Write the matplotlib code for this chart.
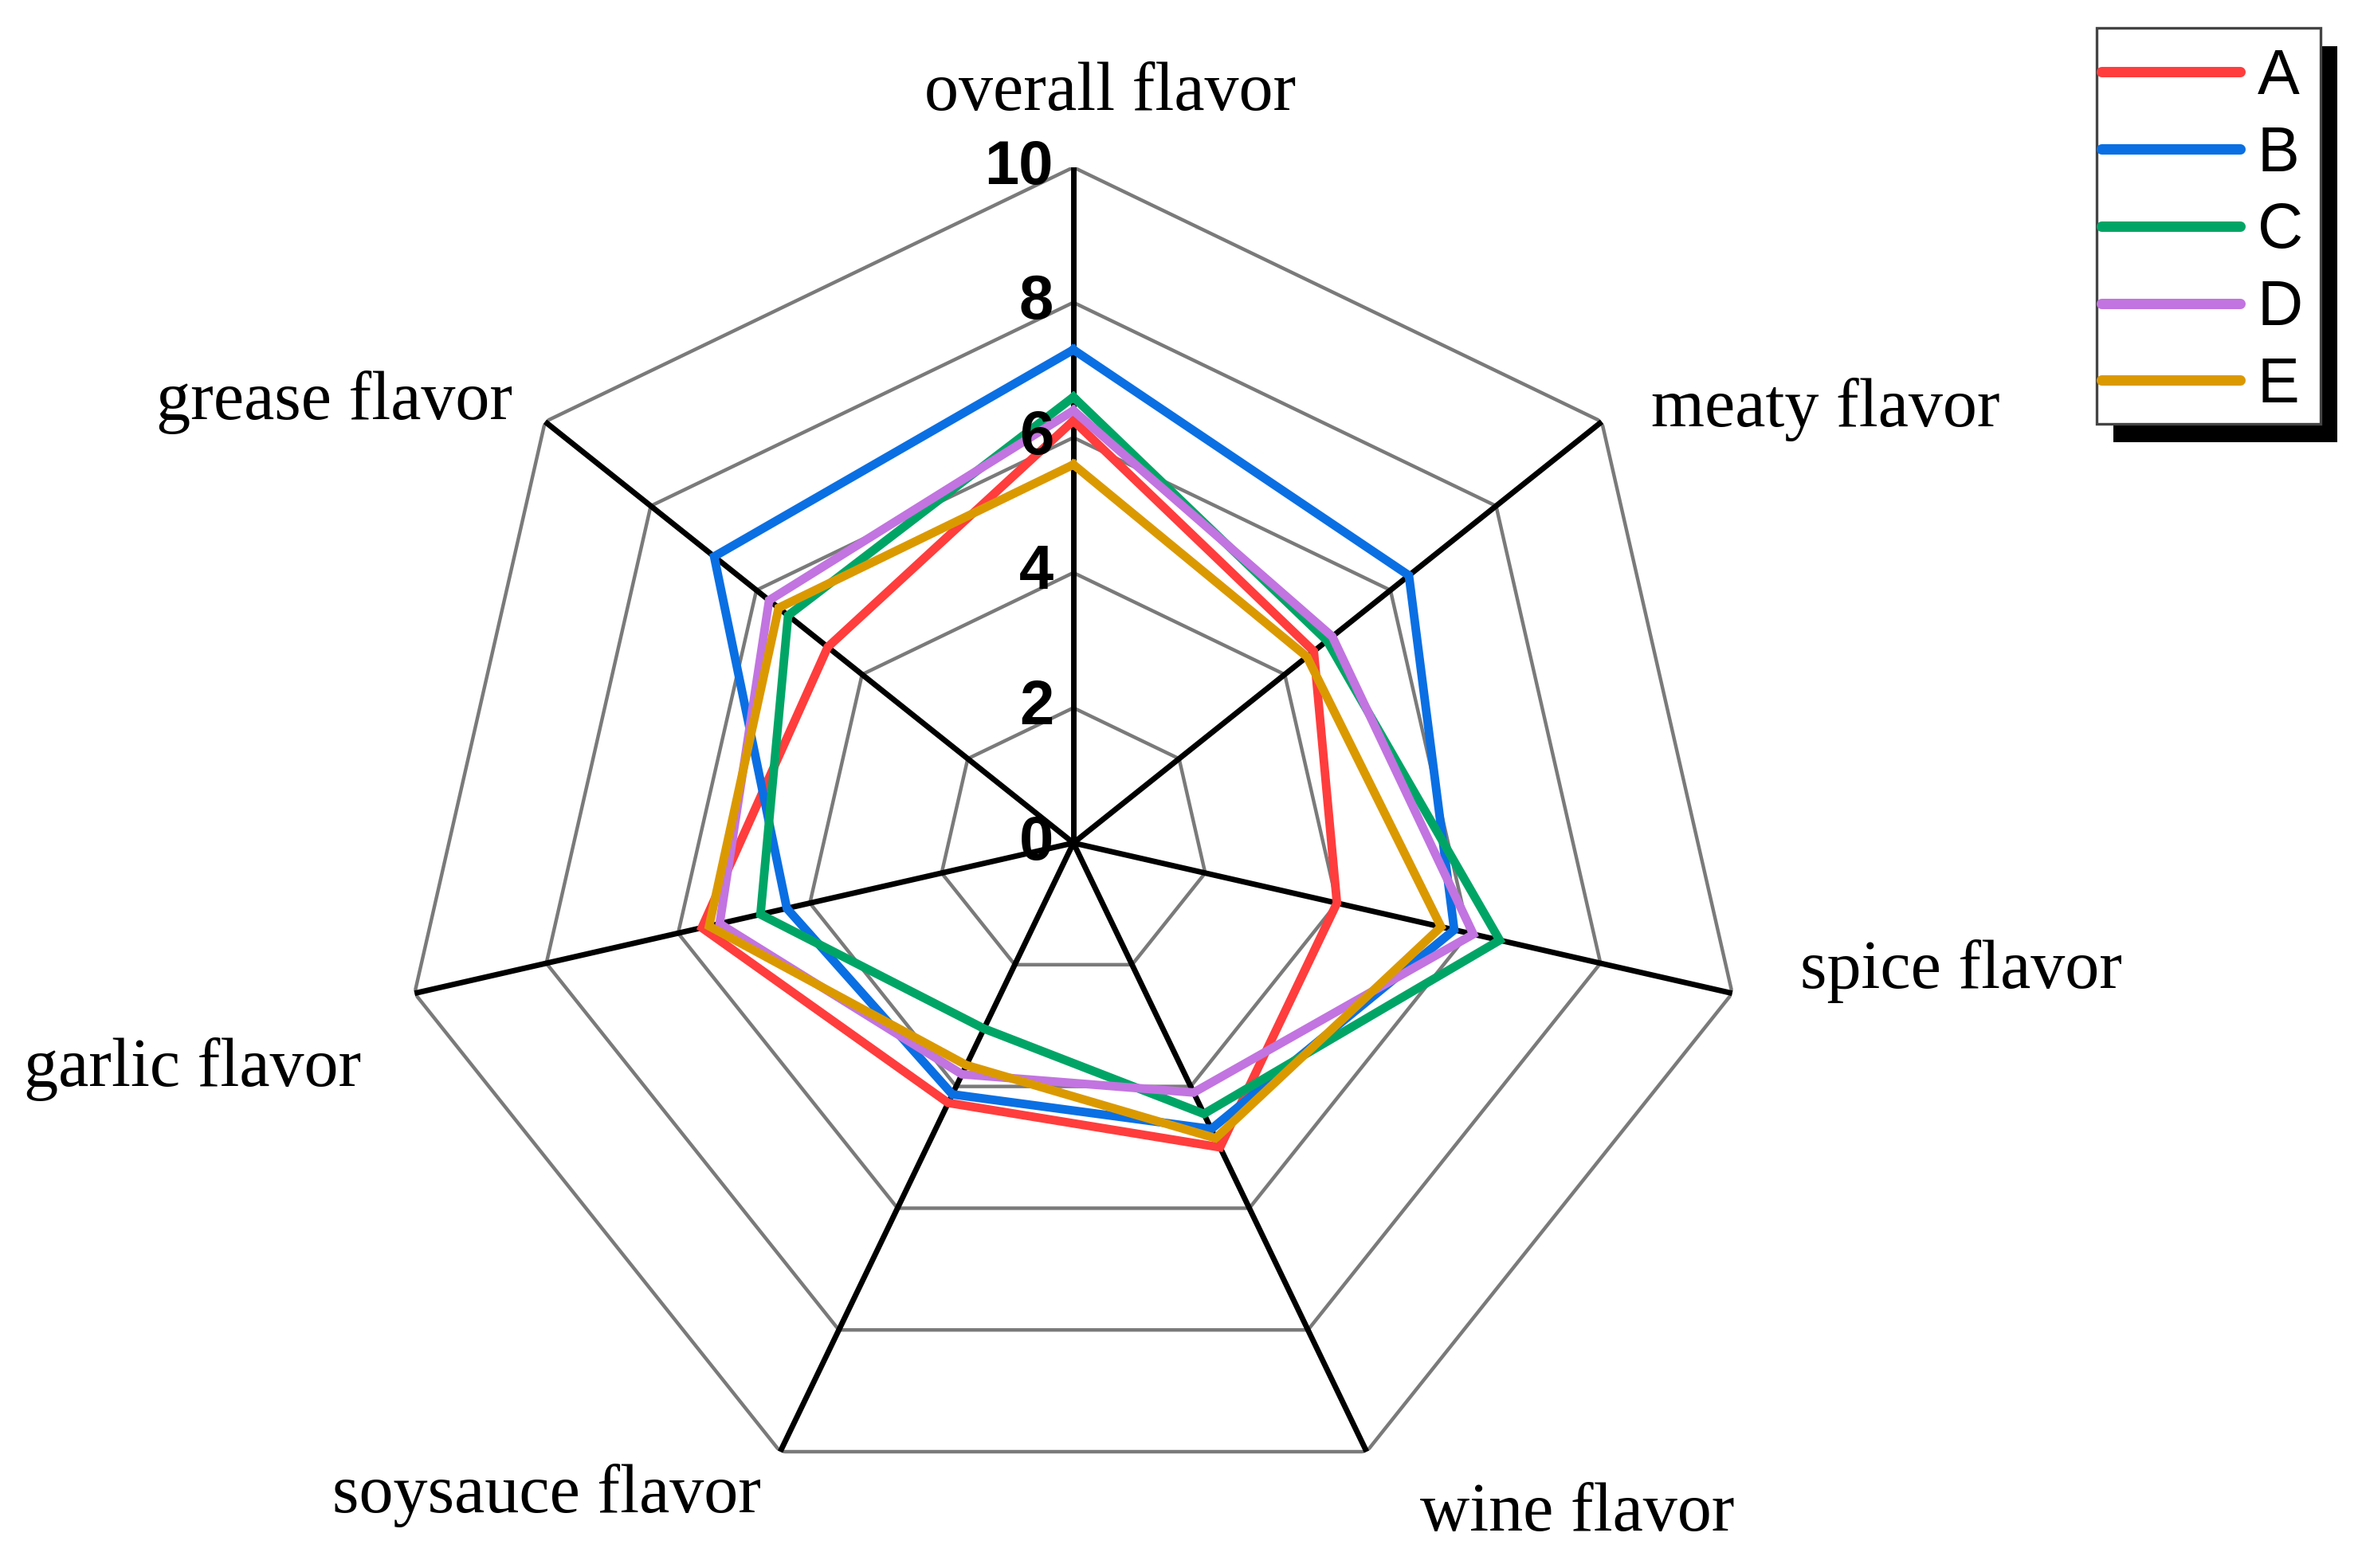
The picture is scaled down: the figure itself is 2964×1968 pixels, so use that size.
import numpy as np
import matplotlib
matplotlib.use("Agg")
import matplotlib.pyplot as plt
from matplotlib.patches import Rectangle

# categories clockwise from top
categories = ['overall flavor', 'meaty flavor', 'spice flavor', 'wine flavor',
              'soysauce flavor', 'garlic flavor', 'grease flavor']
series_names = ['A', 'B', 'C', 'D', 'E']
A = [6.25, 4.55, 4.0, 5.0, 4.27, 5.64, 4.65]
B = [7.3, 6.35, 5.78, 4.7, 4.13, 4.35, 6.8]
C = [6.6, 4.8, 6.47, 4.45, 3.05, 4.75, 5.4]
D = [6.4, 4.9, 6.07, 4.1, 3.8, 5.37, 5.76]
E = [5.6, 4.42, 5.58, 4.85, 3.65, 5.53, 5.58]
ticks = [0, 2, 4, 6, 8, 10]

colors = ['#FF3D3D', '#0A6FE3', '#00A566', '#C274E0', '#DB9900']

W, H = 2964, 1968
fig = plt.figure(figsize=(W / 200, H / 200), dpi=200)

# centre at (1347, 1058) px, radius 848 px
cx, cy, R = 1347, 1058, 848
ax = fig.add_axes([(cx - R) / W, (H - cy - R) / H, 2 * R / W, 2 * R / H], projection='polar')
ax.set_theta_offset(np.pi / 2)
ax.set_theta_direction(-1)
ax.set_ylim(0, 10)
ax.grid(False)
ax.spines['polar'].set_visible(False)
ax.set_xticks([])
ax.set_yticks([])
ax.patch.set_alpha(0)

n = len(categories)
theta = np.linspace(0, 2 * np.pi, n, endpoint=False)
theta_c = np.append(theta, theta[0])

# heptagon rings
for r in ticks[1:]:
    ax.plot(theta_c, [r] * (n + 1), color='#7a7a7a', lw=1.6, zorder=1)

# spokes
for t in theta:
    ax.plot([t, t], [0, 10], color='black', lw=2.5, zorder=2)

# series
for name, vals, col in zip(series_names, [A, B, C, D, E], colors):
    v = np.append(vals, vals[0])
    ax.plot(theta_c, v, color=col, lw=3.9, label=name, zorder=3,
            solid_joinstyle='miter')

# radial tick labels
for r in ticks:
    ax.annotate(str(r), xy=(0, r), xytext=(-9, 0), textcoords='offset points',
                ha='right', va='center', fontsize=28, fontweight='bold',
                family='Liberation Sans', zorder=4)

# category labels
label_pos = [(1393, 117), (2291, 514), (2461, 1219), (1979, 1900),
             (686, 1877), (242, 1342), (420, 505)]
for lab, (px, py) in zip(categories, label_pos):
    fig.text(px / W, 1 - py / H, lab, ha='center', va='center',
             fontsize=31, family='Liberation Serif')

# legend box (frame + heavy drop shadow drawn as patches)
lx0, lx1, ly0, ly1 = 2631, 2912, 35, 532
box_w, box_h = (lx1 - lx0) / W, (ly1 - ly0) / H
shadow = Rectangle(((lx0 + 21) / W, 1 - (ly1 + 23) / H), box_w, box_h,
                   transform=fig.transFigure, facecolor='black', edgecolor='none',
                   zorder=3)
frame = Rectangle((lx0 / W, 1 - ly1 / H), box_w, box_h,
                  transform=fig.transFigure, facecolor='white', edgecolor='#444444',
                  linewidth=1.2, zorder=3.5)
fig.patches.extend([shadow, frame])

handles, labels = ax.get_legend_handles_labels()
leg = fig.legend(handles, labels, loc='center',
                 bbox_to_anchor=((lx0 + lx1) / 2 / W - 8 / W, 1 - 291 / H),
                 prop={'family': 'Liberation Sans', 'size': 28.5},
                 handlelength=2.2, handletextpad=0.27,
                 labelspacing=0.275, borderpad=0.1, borderaxespad=0,
                 frameon=False)
leg.set_zorder(4)
for line in leg.get_lines():
    line.set_linewidth(4.7)
    line.set_solid_capstyle('round')

fig.savefig('out.png', dpi=200, facecolor='white')
